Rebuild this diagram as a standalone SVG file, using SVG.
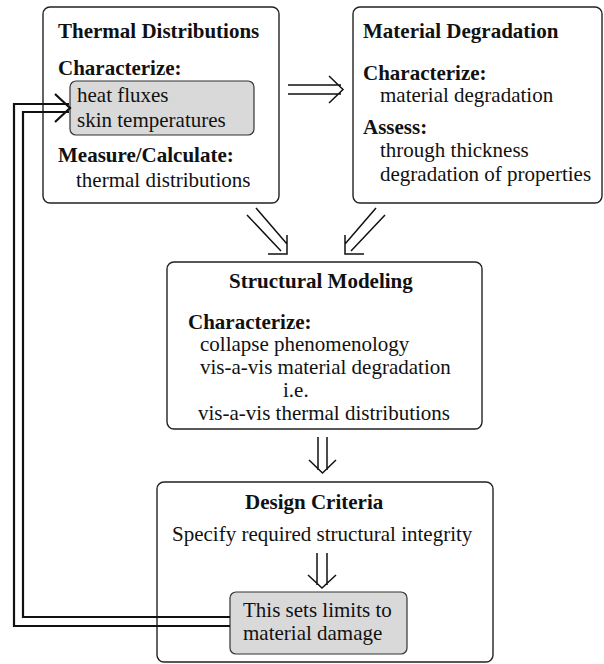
<svg xmlns="http://www.w3.org/2000/svg" width="604" height="664" viewBox="0 0 604 664">
<style>
.box{fill:#fff;stroke:#222;stroke-width:1.4}
.shade{fill:#d9d9d9;stroke:#333;stroke-width:1.2}
text{font-family:"Liberation Serif","Times New Roman",serif;font-size:21px;fill:#111}
.b{font-weight:bold}
.arr{fill:none;stroke:#111;stroke-width:1.5}
.fb{fill:none;stroke:#111;stroke-width:2.2}
</style>
<rect width="604" height="664" fill="#fff"/>
<g id="thermal">
<rect class="box" x="43" y="7" width="236" height="196" rx="7"/>
<rect class="shade" x="70" y="81" width="184" height="54" rx="6"/>
<text class="b" x="58" y="38">Thermal Distributions</text>
<text class="b" x="58" y="75">Characterize:</text>
<text x="77" y="102">heat fluxes</text>
<text x="77" y="127">skin temperatures</text>
<text class="b" x="58" y="162">Measure/Calculate:</text>
<text x="76" y="187">thermal distributions</text>
</g>
<g id="material">
<rect class="box" x="353" y="7" width="249" height="196" rx="7"/>
<text class="b" x="363" y="38">Material Degradation</text>
<text class="b" x="363" y="80">Characterize:</text>
<text x="380" y="102">material degradation</text>
<text class="b" x="363" y="134">Assess:</text>
<text x="380" y="157">through thickness</text>
<text x="380" y="181">degradation of properties</text>
</g>
<g id="structural">
<rect class="box" x="167" y="262" width="315" height="167" rx="7"/>
<text class="b" x="229" y="288">Structural Modeling</text>
<text class="b" x="188" y="329">Characterize:</text>
<text x="200" y="351">collapse phenomenology</text>
<text x="200" y="374">vis-a-vis material degradation</text>
<text x="283" y="397">i.e.</text>
<text x="198" y="420">vis-a-vis thermal distributions</text>
</g>
<g id="design">
<rect class="box" x="157" y="482" width="336" height="180" rx="7"/>
<text class="b" x="245" y="509">Design Criteria</text>
<text x="172" y="541">Specify required structural integrity</text>
</g>
<g id="limits">
<rect class="shade" x="230" y="592" width="177" height="62" rx="6"/>
<text x="243" y="617">This sets limits to</text>
<text x="243" y="640">material damage</text>
</g>
<g id="connectors">
<path class="arr" d="M288 85H341M288 94H341M329 76L343 89.5L329 103"/>
<path class="arr" d="M247 215L281 251M256 208L287 244M287 235V254H268"/>
<path class="arr" d="M385 215L351 251M376 208L345 244M345 235V254H364"/>
<path class="arr" d="M318 437V470M327 437V470M309 460L322.5 473L336 460"/>
<path class="arr" d="M317 553V585M327 553V585M308 575L322 588L336 575"/>
<path class="fb" d="M230 626H14V104H69M230 617H23V112H69"/>
<path class="fb" d="M55 94L70 108L55 122"/>
</g>
</svg>
